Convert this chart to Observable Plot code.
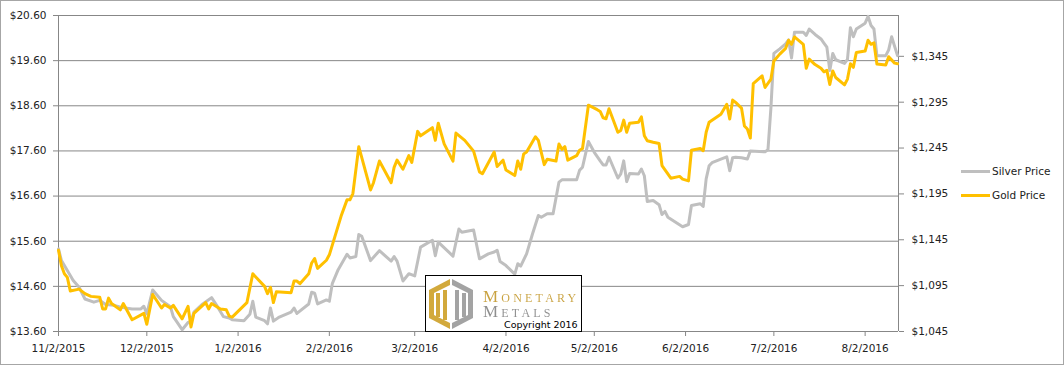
<!DOCTYPE html>
<html>
<head>
<meta charset="utf-8">
<script src="https://cdn.jsdelivr.net/npm/d3@7"></script>
<script src="https://cdn.jsdelivr.net/npm/@observablehq/plot@0.6"></script>
<style>
  body { margin: 0; background: #fff; }
  #wrap { position: relative; width: 1064px; height: 365px; overflow: hidden; background: #fff; }
  #chart svg { display: block; }
  #border { position: absolute; left: 0; top: 0; width: 1064px; height: 365px; box-sizing: border-box; border: 1px solid #a6a6a6; pointer-events: none; z-index: 5; }
  #legend { position: absolute; left: 961px; top: 163px; font-family: "DejaVu Sans", sans-serif; font-size: 10.5px; color: #222; z-index: 3; }
  #legend .row { display: flex; align-items: center; height: 16px; margin-bottom: 8px; }
  #legend .swatch { display: inline-block; width: 29px; height: 3px; margin-right: 2px; }
  #logo { position: absolute; left: 425px; top: 275px; width: 157px; height: 57px; box-sizing: border-box; border: 1.5px solid #000; background: #fff; z-index: 4; }
  #logo svg { position: absolute; left: 2px; top: 2px; }
  #logo .brand { position: absolute; left: 57px; top: 13px; font-family: "Liberation Serif", "DejaVu Serif", serif; font-variant: small-caps; font-size: 17px; letter-spacing: 3.2px; line-height: 15px; white-space: pre-line;
    color: transparent; background: linear-gradient(to bottom, #C9A240 0px, #C9A240 15px, #8E8E8E 15px, #8E8E8E 30px); -webkit-background-clip: text; background-clip: text; }
  #logo .copy { position: absolute; left: 78px; top: 44px; font-family: "DejaVu Sans", sans-serif; font-size: 9.5px; color: #000; line-height: 10px; height: 10px; }
</style>
</head>
<body>
<div id="wrap">
  <div id="chart"></div>
  <div id="legend"></div>
  <div id="logo">
    <svg width="46" height="52" viewBox="0 0 46 52">
      <polygon points="22,1 1,12 1,40 22,51" fill="#D2A93C"/>
      <polygon points="24,1 45,12 45,40 24,51" fill="#A3A3A3"/>
      <polygon points="22,7 6,15 6,37 22,45" fill="#fff"/>
      <polygon points="24,7 40,15 40,37 24,45" fill="#fff"/>
      <rect x="8" y="15" width="4" height="24" fill="#D2A93C"/>
      <rect x="15" y="12" width="4" height="30" fill="#D2A93C"/>
      <rect x="27" y="12" width="4" height="30" fill="#A3A3A3"/>
      <rect x="34" y="15" width="4" height="24" fill="#A3A3A3"/>
    </svg>
    <div class="brand">Monetary
Metals</div>
    <div class="copy">Copyright 2016</div>
  </div>
  <div id="border"></div>
</div>
<script>
// ---- Data ----
const silverDates = [
  "2015-11-02","2015-11-03","2015-11-05","2015-11-07","2015-11-09","2015-11-11","2015-11-14","2015-11-16","2015-11-18","2015-11-21",
  "2015-11-23","2015-11-27","2015-11-30","2015-12-01","2015-12-02","2015-12-04","2015-12-07","2015-12-10","2015-12-11","2015-12-14",
  "2015-12-16","2015-12-17","2015-12-18","2015-12-21","2015-12-24","2015-12-26","2015-12-28","2015-12-30","2015-12-31","2016-01-04",
  "2016-01-06","2016-01-07","2016-01-08","2016-01-11","2016-01-12","2016-01-13","2016-01-14","2016-01-16","2016-01-20","2016-01-21",
  "2016-01-22","2016-01-26","2016-01-27","2016-01-28","2016-01-29","2016-02-01","2016-02-02","2016-02-03","2016-02-05","2016-02-08",
  "2016-02-09","2016-02-11","2016-02-12","2016-02-13","2016-02-16","2016-02-19","2016-02-23","2016-02-24","2016-02-25","2016-02-27",
  "2016-02-29","2016-03-02","2016-03-04","2016-03-08","2016-03-09","2016-03-10","2016-03-15","2016-03-17","2016-03-18","2016-03-22",
  "2016-03-24","2016-03-27","2016-03-29","2016-03-30","2016-03-31","2016-04-02","2016-04-05","2016-04-06","2016-04-07","2016-04-09",
  "2016-04-11","2016-04-13","2016-04-14","2016-04-16","2016-04-18","2016-04-20","2016-04-21","2016-04-23","2016-04-26","2016-04-27",
  "2016-04-28","2016-04-30","2016-05-02","2016-05-04","2016-05-05","2016-05-06","2016-05-07","2016-05-10","2016-05-11","2016-05-12",
  "2016-05-13","2016-05-14","2016-05-17","2016-05-18","2016-05-19","2016-05-20","2016-05-22","2016-05-24","2016-05-25","2016-05-26",
  "2016-05-27","2016-06-01","2016-06-03","2016-06-04","2016-06-07","2016-06-08","2016-06-09","2016-06-10","2016-06-11","2016-06-14",
  "2016-06-16","2016-06-17","2016-06-18","2016-06-19","2016-06-21","2016-06-23","2016-06-24","2016-06-29","2016-06-30","2016-07-01",
  "2016-07-02","2016-07-04","2016-07-06","2016-07-07","2016-07-08","2016-07-09","2016-07-12","2016-07-13","2016-07-14","2016-07-16",
  "2016-07-18","2016-07-19","2016-07-20","2016-07-21","2016-07-22","2016-07-23","2016-07-26","2016-07-27","2016-07-28","2016-07-29",
  "2016-07-30","2016-08-02","2016-08-03","2016-08-04","2016-08-05","2016-08-06","2016-08-09","2016-08-10","2016-08-11","2016-08-13"
];
const silverPrices = [
  15.43,15.17,14.95,14.73,14.58,14.32,14.25,14.29,14.20,14.18,
  14.14,14.10,14.10,14.16,13.99,14.52,14.29,14.15,13.93,13.64,
  13.80,13.82,14.03,14.21,14.35,14.15,13.93,13.90,13.86,13.84,
  13.98,14.27,13.92,13.84,13.77,14.12,13.83,13.92,14.03,14.12,
  14.00,14.21,14.47,14.45,14.21,14.30,14.27,14.66,14.97,15.31,
  15.23,15.26,15.75,15.71,15.17,15.39,15.16,15.26,15.16,14.72,
  14.88,14.83,15.47,15.62,15.28,15.58,15.27,15.87,15.80,15.85,
  15.21,15.32,15.36,15.40,15.15,15.06,14.87,15.10,15.05,15.32,
  15.76,16.17,16.13,16.21,16.21,16.91,16.96,16.96,16.96,17.17,
  17.24,17.81,17.57,17.38,17.29,17.29,17.46,17.00,17.09,17.38,
  16.92,17.10,17.09,17.20,17.05,16.48,16.50,16.41,16.19,16.26,
  16.13,15.92,15.97,16.39,16.43,16.37,16.98,17.27,17.34,17.42,
  17.47,17.16,17.45,17.46,17.45,17.42,17.60,17.58,17.63,18.56,
  19.76,19.86,19.97,20.06,19.66,20.23,20.23,20.16,20.30,20.18,
  20.08,19.99,19.90,19.38,19.76,19.62,19.54,19.63,20.33,20.13,
  20.30,20.43,20.58,20.38,20.30,19.71,19.71,19.84,20.13,19.71
];
const goldDates = [
  "2015-11-02","2015-11-03","2015-11-04","2015-11-05","2015-11-06","2015-11-09","2015-11-11","2015-11-13","2015-11-16","2015-11-17",
  "2015-11-18","2015-11-19","2015-11-20","2015-11-23","2015-11-24","2015-11-27","2015-12-01","2015-12-02","2015-12-04","2015-12-07",
  "2015-12-08","2015-12-10","2015-12-11","2015-12-14","2015-12-16","2015-12-17","2015-12-18","2015-12-22","2015-12-23","2015-12-24",
  "2015-12-27","2015-12-29","2015-12-30","2015-12-31","2016-01-05","2016-01-07","2016-01-11","2016-01-12","2016-01-13","2016-01-14",
  "2016-01-15","2016-01-20","2016-01-21","2016-01-22","2016-01-23","2016-01-26","2016-01-27","2016-01-28","2016-01-29","2016-02-01",
  "2016-02-02","2016-02-06","2016-02-08","2016-02-09","2016-02-10","2016-02-12","2016-02-16","2016-02-17","2016-02-19","2016-02-23",
  "2016-02-24","2016-02-25","2016-02-27","2016-02-29","2016-03-01","2016-03-03","2016-03-04","2016-03-08","2016-03-09","2016-03-10",
  "2016-03-12","2016-03-15","2016-03-16","2016-03-19","2016-03-22","2016-03-24","2016-03-25","2016-03-29","2016-03-30","2016-04-01",
  "2016-04-02","2016-04-05","2016-04-06","2016-04-07","2016-04-08","2016-04-09","2016-04-12","2016-04-13","2016-04-15","2016-04-16",
  "2016-04-19","2016-04-20","2016-04-21","2016-04-22","2016-04-23","2016-04-26","2016-04-27","2016-04-28","2016-04-30","2016-05-03",
  "2016-05-04","2016-05-05","2016-05-06","2016-05-07","2016-05-10","2016-05-11","2016-05-12","2016-05-13","2016-05-14","2016-05-17",
  "2016-05-18","2016-05-19","2016-05-20","2016-05-22","2016-05-24","2016-05-25","2016-05-28","2016-05-31","2016-06-01","2016-06-03",
  "2016-06-04","2016-06-07","2016-06-08","2016-06-09","2016-06-10","2016-06-14","2016-06-16","2016-06-17","2016-06-18","2016-06-19",
  "2016-06-21","2016-06-22","2016-06-23","2016-06-24","2016-06-25","2016-06-28","2016-06-29","2016-07-01","2016-07-02","2016-07-04",
  "2016-07-06","2016-07-07","2016-07-08","2016-07-09","2016-07-12","2016-07-13","2016-07-14","2016-07-16","2016-07-18","2016-07-19",
  "2016-07-20","2016-07-21","2016-07-22","2016-07-23","2016-07-26","2016-07-27","2016-07-28","2016-07-29","2016-07-30","2016-08-02",
  "2016-08-03","2016-08-04","2016-08-05","2016-08-06","2016-08-09","2016-08-10","2016-08-12","2016-08-13"
];
const goldPrices = [
  1133.5,1116.8,1107.9,1104.0,1089.2,1091.2,1086.3,1083.3,1082.4,1069.6,
  1069.6,1081.4,1075.5,1068.6,1075.5,1057.8,1064.7,1052.9,1085.3,1070.6,
  1074.5,1070.6,1073.5,1058.8,1072.5,1049.9,1064.7,1076.5,1069.6,1075.5,
  1069.6,1068.6,1061.7,1060.7,1076.5,1107.9,1094.2,1086.3,1093.2,1076.5,
  1088.3,1087.3,1100.0,1100.0,1097.1,1107.9,1119.7,1124.6,1113.8,1122.7,
  1128.6,1170.8,1188.5,1188.5,1195.4,1246.5,1199.3,1207.2,1230.8,1207.2,
  1223.9,1231.8,1221.9,1236.7,1229.3,1263.2,1258.3,1267.2,1253.4,1272.1,
  1249.5,1230.8,1261.3,1253.4,1241.6,1219.0,1217.0,1240.6,1224.9,1231.8,
  1221.0,1215.0,1230.8,1221.9,1238.6,1240.6,1257.3,1253.4,1226.9,1232.8,
  1230.8,1249.5,1243.6,1246.5,1231.8,1236.7,1242.6,1244.5,1291.7,1286.8,
  1284.9,1278.0,1277.0,1287.8,1262.2,1264.2,1275.5,1262.2,1272.1,1273.1,
  1279.0,1258.3,1253.0,1251.4,1250.0,1225.9,1212.1,1214.1,1211.1,1209.2,
  1242.6,1244.5,1242.1,1262.2,1273.1,1281.9,1292.7,1276.6,1297.3,1294.7,
  1288.6,1269.1,1265.7,1255.9,1315.3,1323.8,1311.0,1320.2,1339.9,1347.4,
  1353.7,1362.5,1358.1,1366.1,1358.1,1332.0,1341.9,1336.0,1332.0,1328.1,
  1329.7,1314.3,1329.1,1321.9,1313.9,1320.2,1337.0,1333.0,1349.2,1350.7,
  1362.5,1358.1,1359.6,1336.7,1335.6,1344.5,1337.6,1337.0
];
const silverTicks = [13.6, 14.6, 15.6, 16.6, 17.6, 18.6, 19.6, 20.6];
const goldTicks = [1045, 1095, 1145, 1195, 1245, 1295, 1345];
const dateTicks = ["2015-11-02","2015-12-02","2016-01-02","2016-02-02","2016-03-02","2016-04-02","2016-05-02","2016-06-02","2016-07-02","2016-08-02"];
const silverDomain = [13.6, 20.6];
const goldDomain = [1045, 1389.5];
const dateDomain = ["2015-11-02", "2016-08-13T08:00Z"];
const seriesNames = ["Silver Price", "Gold Price"];
const seriesColors = ["#BFBFBF", "#FFC000"];

// ---- Build ----
const goldToSilver = d3.scaleLinear().domain(goldDomain).range(silverDomain);
const silverData = silverDates.map((d, i) => ({date: new Date(d), value: silverPrices[i]}));
const goldData = goldDates.map((d, i) => ({date: new Date(d), value: goldToSilver(goldPrices[i])}));
const xDomain = dateDomain.map(d => new Date(d));
const gridColor = "#878787";
const fmtGold = d3.format(",");

const chart = Plot.plot({
  width: 1064,
  height: 365,
  marginLeft: 58,
  marginRight: 166,
  marginTop: 15,
  marginBottom: 34,
  style: {fontFamily: "'DejaVu Sans', sans-serif", fontSize: "10.5px", color: "#222", background: "#fff"},
  x: {type: "utc", domain: xDomain},
  y: {domain: silverDomain},
  marks: [
    Plot.gridY(silverTicks, {stroke: gridColor, strokeOpacity: 1}),
    Plot.ruleX([xDomain[0], xDomain[1]], {stroke: gridColor}),
    Plot.axisY({ticks: silverTicks, tickFormat: d => "$" + d.toFixed(2), tickSize: 5, tickPadding: 7, stroke: gridColor, label: null}),
    Plot.axisY({anchor: "right", ticks: goldTicks.map(g => goldToSilver(g)), tickFormat: d => "$" + fmtGold(Math.round(goldToSilver.invert(d))), tickSize: 5, tickPadding: 8, stroke: gridColor, label: null}),
    Plot.axisX({ticks: dateTicks.map(d => new Date(d)), tickFormat: d3.utcFormat("%-m/%-d/%Y"), tickSize: 5, tickPadding: 8, stroke: gridColor, label: null}),
    Plot.line(silverData, {x: "date", y: "value", stroke: seriesColors[0], strokeWidth: 3, strokeLinejoin: "round", strokeLinecap: "round"}),
    Plot.line(goldData, {x: "date", y: "value", stroke: seriesColors[1], strokeWidth: 3, strokeLinejoin: "round", strokeLinecap: "round"})
  ]
});
document.getElementById("chart").appendChild(chart);

const legend = document.getElementById("legend");
seriesNames.forEach((name, i) => {
  const row = document.createElement("div");
  row.className = "row";
  const sw = document.createElement("span");
  sw.className = "swatch";
  sw.style.background = seriesColors[i];
  const label = document.createElement("span");
  label.textContent = name;
  row.appendChild(sw);
  row.appendChild(label);
  legend.appendChild(row);
});
</script>
</body>
</html>
